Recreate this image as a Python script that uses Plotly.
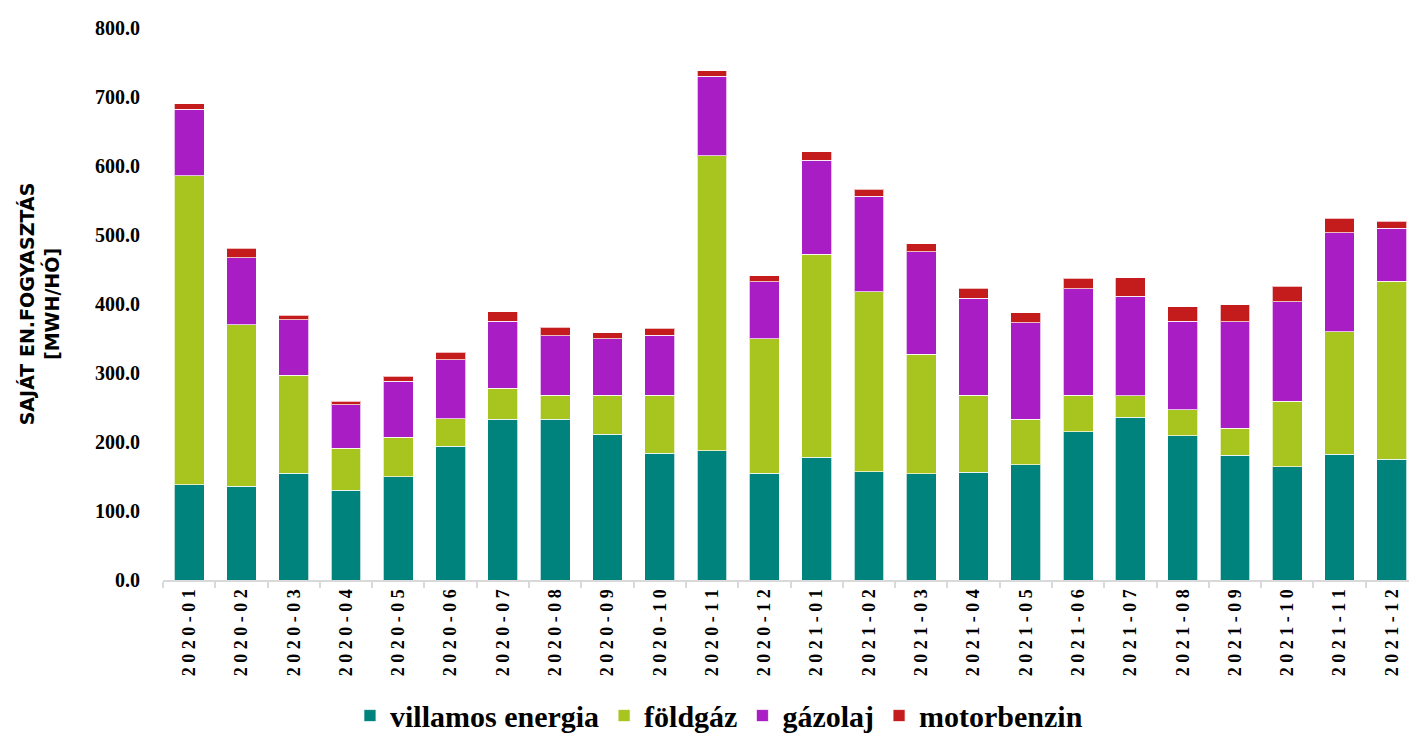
import plotly.graph_objects as go

categories = ["2020-01","2020-02","2020-03","2020-04","2020-05","2020-06","2020-07","2020-08",
              "2020-09","2020-10","2020-11","2020-12","2021-01","2021-02","2021-03","2021-04",
              "2021-05","2021-06","2021-07","2021-08","2021-09","2021-10","2021-11","2021-12"]

villamos_energia = [138, 136, 155, 130, 150, 194, 233, 233, 211, 184, 187, 155,
                    178, 157, 154, 156, 167, 215, 236, 209, 181, 164, 182, 175]
foldgaz = [448, 234, 142, 61, 57, 40, 45, 35, 57, 84, 428, 195,
           294, 261, 173, 112, 66, 53, 31, 38, 39, 95, 178, 258]
gazolaj = [96, 97, 80, 63, 81, 85, 97, 86, 82, 87, 115, 82,
           136, 138, 149, 140, 140, 154, 144, 128, 154, 144, 143, 77]
motorbenzin = [8, 14, 7, 5, 7, 11, 14, 12, 8, 10, 8, 9,
               13, 10, 11, 15, 14, 15, 27, 21, 25, 23, 21, 10]

series_names = ["villamos energia", "földgáz", "gázolaj", "motorbenzin"]
series_values = [villamos_energia, foldgaz, gazolaj, motorbenzin]
colors = ["#00837D", "#A8C41E", "#A81DC4", "#C41C1C"]

tick_labels = [" ".join(c) for c in categories]

serif = "Palatino Linotype, Book Antiqua, Liberation Serif, serif"

fig = go.Figure()
for name, vals, col in zip(series_names, series_values, colors):
    fig.add_trace(go.Bar(
        x=categories, y=vals, name=name,
        marker=dict(color=col, line=dict(color="rgba(255,255,255,0.7)", width=1)),
    ))

fig.update_layout(
    barmode="stack",
    bargap=0.43,
    width=1417, height=740,
    paper_bgcolor="white", plot_bgcolor="white",
    margin=dict(l=155, r=7, t=20, b=158),
    legend=dict(orientation="h", x=0.443, xanchor="center", y=-0.2456, yanchor="middle",
                font=dict(family=serif, size=30, color="#000000", weight="bold"),
                itemwidth=30, traceorder="normal"),
    font=dict(family=serif, color="#000000"),
)

fig.update_xaxes(
    type="category", automargin=False,
    tickmode="array", tickvals=categories, ticktext=tick_labels,
    tickangle=-90,
    tickfont=dict(family=serif, size=18, color="#000000", weight="bold"),
    showline=True, linecolor="#D9D9D9", linewidth=2,
    ticks="outside", tickson="boundaries", ticklen=6, tickcolor="#D9D9D9", tickwidth=2,
    showgrid=False,
)

fig.update_yaxes(
    range=[0, 800], dtick=100, tickformat=".1f", automargin=False,
    tickfont=dict(family=serif, size=20, color="#000000", weight="bold"),
    showgrid=False, zeroline=False, showline=False,
    ticks="outside", ticklen=18, tickcolor="rgba(0,0,0,0)",
    title=dict(text="SAJÁT EN.FOGYASZTÁS<br>[MWH/HÓ]",
               font=dict(family="DejaVu Sans, sans-serif", size=19,
                         color="#000000", weight="bold"),
               standoff=30),
)

fig.write_html("out.html")
